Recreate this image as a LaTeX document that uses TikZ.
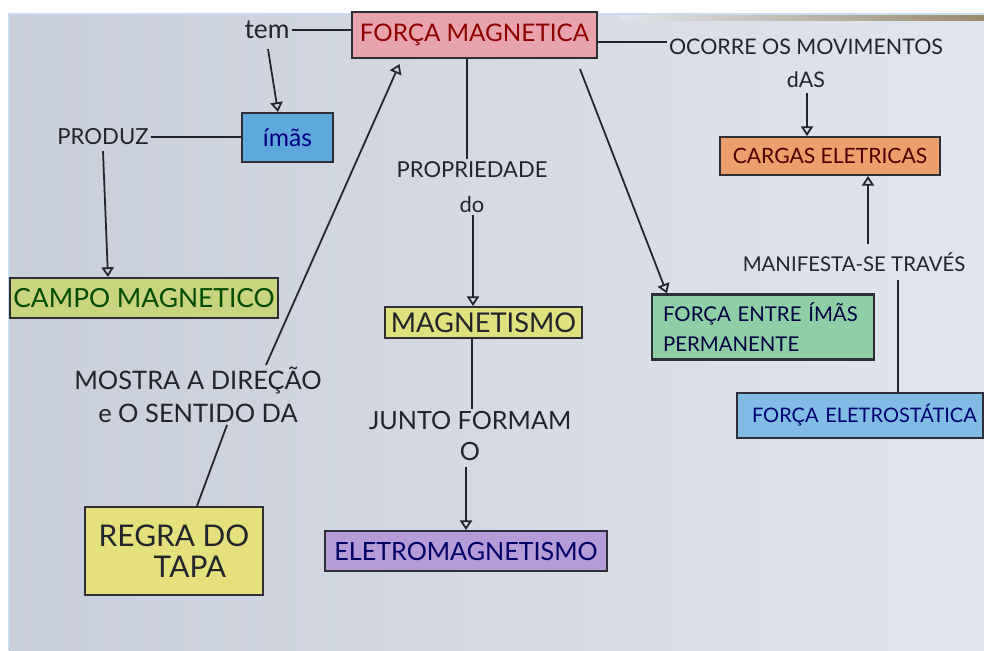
\documentclass[tikz,border=0pt]{standalone}
\usepackage{fontspec}
\setmainfont{Lato}
\usetikzlibrary{arrows.meta,calc}
\definecolor{paperdark}{HTML}{C8CEDA}
\definecolor{paperlight}{HTML}{E1E5ED}
\definecolor{frameblue}{HTML}{C9DDF2}
\definecolor{tanband}{HTML}{9A8A6A}
\definecolor{ink}{HTML}{23232C}
\definecolor{boxline}{HTML}{2E2E34}
\definecolor{cpink}{HTML}{E8A3AC}
\definecolor{cblue}{HTML}{5FA8DC}
\definecolor{cgreenyel}{HTML}{C9D47E}
\definecolor{cyellow}{HTML}{DFE07E}
\definecolor{cyellow2}{HTML}{E4E07C}
\definecolor{cpurple}{HTML}{B59BD8}
\definecolor{corange}{HTML}{EC9E6B}
\definecolor{cgreen}{HTML}{8ECFA6}
\definecolor{clblue}{HTML}{80BCE6}
\begin{document}
\begin{tikzpicture}[x=0.02cm,y=-0.02cm,
  box/.style={draw=boxline, line width=1.2pt, inner sep=0pt, align=center},
  lbl/.style={text=ink, inner sep=1pt, align=center},
  conn/.style={draw=ink, line width=1pt},
  arr/.style={conn, -{Triangle[open, length=5.5pt, width=7pt]}}]
\useasboundingbox (0,0) rectangle (984,650);
\fill[white] (0,0) rectangle (984,650);
\shade[left color=paperdark, right color=paperlight] (9,14) rectangle (984,650);
\shade[left color=paperlight, right color=tanband] (620,14) rectangle (984,20);
\draw[frameblue, line width=1pt] (9,650) -- (9,14) -- (984,14);

% concept boxes
\node[box, fill=cpink, minimum width=4.9cm, minimum height=0.92cm, text=red!55!black,
  font=\fontsize{13.8}{16}\selectfont] (fm) at (474.5,35) {FORÇA MAGNETICA};
\node[box, fill=cblue, minimum width=1.82cm, minimum height=0.98cm, text=blue!50!black,
  font=\fontsize{14}{16}\selectfont] (imas) at (287.5,137.5) {ímãs};
\node[box, fill=cgreenyel, minimum width=5.36cm, minimum height=0.8cm, text=black!70!green,
  font=\fontsize{15}{18}\selectfont] (campo) at (144,298) {CAMPO MAGNETICO};
\node[box, fill=cyellow, minimum width=3.94cm, minimum height=0.62cm, text=ink,
  font=\fontsize{15.5}{17}\selectfont] (mag) at (483.5,322.5) {MAGNETISMO};
\node[box, fill=cpurple, minimum width=5.64cm, minimum height=0.8cm, text=blue!40!black,
  font=\fontsize{14.3}{17}\selectfont] (eletro) at (466,551) {ELETROMAGNETISMO};
\node[box, fill=cyellow2, minimum width=3.56cm, minimum height=1.76cm, text=ink, align=left,
  font=\fontsize{17}{18}\selectfont] (regra) at (174,551) {REGRA DO\\\hspace*{1.1cm}TAPA};
\node[box, fill=corange, minimum width=4.4cm, minimum height=0.76cm, text=red!30!black,
  font=\fontsize{12}{15}\selectfont] (cargas) at (830,156) {CARGAS ELETRICAS};
\node[box, fill=cgreen, text width=4.0cm, inner xsep=0.22cm, minimum height=1.3cm,
  align=left, text=blue!25!black,
  font=\fontsize{11.6}{17}\selectfont] (entre) at (763,327) {FORÇA ENTRE ÍMÃS\\PERMANENTE};
\node[box, fill=clblue, text width=4.62cm, inner xsep=0.15cm, minimum height=0.9cm,
  align=left, text=blue!45!black,
  font=\fontsize{11.4}{13}\selectfont] (eletrost) at (860,415.5) {\hspace*{0.15cm}\mbox{FORÇA ELETROSTÁTICA}};

% linking phrases
\node[lbl, font=\fontsize{15}{18}\selectfont] (tem) at (267,30) {tem};
\node[lbl, font=\fontsize{12.6}{15}\selectfont] (produz) at (103,137) {PRODUZ};
\node[lbl, font=\fontsize{12.5}{20}\selectfont] (prop) at (472,187) {PROPRIEDADE\\do};
\node[lbl, font=\fontsize{14.5}{18.8}\selectfont] (mostra) at (198,395) {MOSTRA A DIREÇÃO\\e O SENTIDO DA};
\node[lbl, font=\fontsize{14.3}{17.6}\selectfont] (junto) at (470,436) {JUNTO FORMAM\\O};
\node[lbl, font=\fontsize{12.2}{18.8}\selectfont] (ocorre) at (806,63) {OCORRE OS MOVIMENTOS\\dAS};
\node[lbl, font=\fontsize{11.6}{14}\selectfont] (manif) at (854,262) {MANIFESTA-SE TRAVÉS};

% connectors
\draw[conn] (tem.east) -- (tem.east -| fm.west);
\draw[arr] ($(tem.south)+(1,8)$) -- ($(imas.north)+(-9.5,0)$);
\draw[conn] (produz.east) -- (produz.east -| imas.west);
\draw[arr] ($(produz.south)+(0,4)$) -- ($(campo.north)+(-36,0)$);
\draw[conn] ($(regra.north)+(23,0)$) -- ($(mostra.south)+(29,0)$);
\draw[arr] ($(mostra.north)+(68,0)$) -- ($(fm.south)+(-75,5)$);
\coordinate (c1) at ($(fm.south)+(-7.5,0)$);
\draw[conn] (c1) -- (c1 |- prop.north);
\coordinate (c2) at ($(mag.north)+(-10.5,0)$);
\draw[arr] (prop.south -| c2) -- (c2);
\coordinate (c3) at ($(mag.south)+(-11.5,0)$);
\draw[conn] (c3) -- (c3 |- junto.north);
\coordinate (c4) at ($(eletro.north)+(0,0)$);
\draw[arr] ($(junto.south -| c4)+(0,4)$) -- (c4);
\coordinate (c5) at ($(fm.east)+(0,7)$);
\draw[conn] (c5) -- (c5 -| ocorre.west);
\coordinate (c6) at ($(cargas.north)+(-23,0)$);
\draw[arr] ($(ocorre.south -| c6)+(0,4)$) -- (c6);
\coordinate (c7) at ($(cargas.south)+(38,0)$);
\draw[arr] ($(manif.north -| c7)+(0,-6)$) -- (c7);
\coordinate (c8) at ($(eletrost.north)+(38,0)$);
\draw[conn] ($(manif.south -| c8)+(0,6)$) -- (c8);
\draw[arr] ($(fm.south)+(105.5,10)$) -- ($(entre.north west)+(16,0)$);
\end{tikzpicture}
\end{document}
